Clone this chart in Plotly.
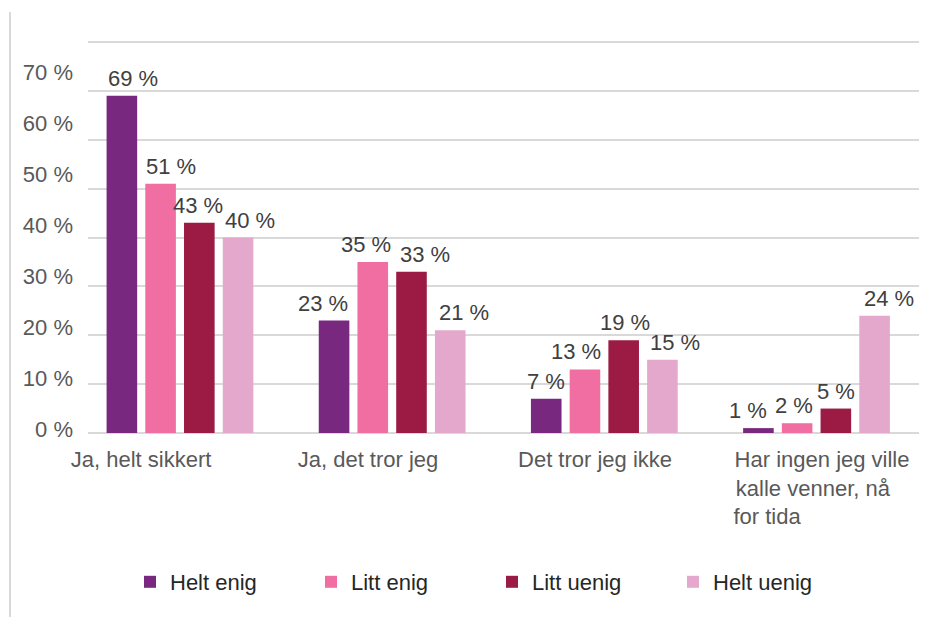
import plotly.graph_objects as go

categories = ["Ja, helt sikkert", "Ja, det tror jeg", "Det tror jeg ikke",
              "Har ingen jeg ville kalle venner, nå for tida"]
tick_labels = ["Ja, helt sikkert", "Ja, det tror jeg", "Det tror jeg ikke",
               "Har ingen jeg ville<br>kalle venner, nå\u00a0\u00a0\u00a0<br>for tida" + "\u00a0" * 18]
series_names = ["Helt enig", "Litt enig", "Litt uenig", "Helt uenig"]
helt_enig = [0.69, 0.23, 0.07, 0.01]
litt_enig = [0.51, 0.35, 0.13, 0.02]
litt_uenig = [0.43, 0.33, 0.19, 0.05]
helt_uenig = [0.40, 0.21, 0.15, 0.24]
y_tick_vals = [0, 0.1, 0.2, 0.3, 0.4, 0.5, 0.6, 0.7]
y_tick_text = ["0 %", "10 %", "20 %", "30 %", "40 %", "50 %", "60 %", "70 %"]

colors = ["#79287F", "#F06EA2", "#9B1B44", "#E4A8CC"]
FONT = "Liberation Sans, Arial, sans-serif"

# horizontal pixel nudge of each value label relative to its bar centre
# (rows = series, columns = categories), mimicking the original placement
label_nudge = [
    [11, -11, 0, -10],
    [10, -7, -9, -3],
    [-1, 13, 1, 0],
    [12, 14, 13, 14],
]

W, H = 940, 617
L, R, T, B = 88, 940 - 919, 38, 617 - 433
PH = 433 - T
PW = W - L - R
X_RANGE = [-0.4334, 3.4831]
BARGAP = 0.27
px_per_cat = PW / (X_RANGE[1] - X_RANGE[0])
slot_px = px_per_cat * (1 - BARGAP) / len(series_names)

fig = go.Figure()
annotations = []
all_vals = [helt_enig, litt_enig, litt_uenig, helt_uenig]
for i, (name, vals, col) in enumerate(zip(series_names, all_vals, colors)):
    fig.add_trace(go.Bar(
        name=name, x=categories, y=vals, marker=dict(color=col, line=dict(width=0)),
        hoverinfo="skip",
    ))
    for j, (c, v) in enumerate(zip(categories, vals)):
        annotations.append(dict(
            x=c, y=v, xref="x", yref="y", text=f"{round(v * 100)} %",
            showarrow=False, xanchor="center", yanchor="bottom",
            xshift=(i - (len(series_names) - 1) / 2) * slot_px + label_nudge[i][j],
            yshift=3, font=dict(size=22, color="#404040", family=FONT),
        ))

# empty carrier trace so the label axes (x2 / y2) get drawn
fig.add_trace(go.Scatter(x=[None], y=[None], xaxis="x2", yaxis="y2",
                         showlegend=False, hoverinfo="skip"))

fig.update_layout(
    width=W, height=H,
    margin=dict(l=L, r=R, t=T, b=B, pad=0, autoexpand=False),
    paper_bgcolor="white", plot_bgcolor="white",
    barmode="group", bargap=BARGAP, bargroupgap=0.21,
    font=dict(family=FONT, size=22, color="#595959"),
    xaxis=dict(type="category", range=X_RANGE, showticklabels=False,
               showgrid=False, zeroline=False, showline=False, ticks=""),
    yaxis=dict(range=[0, 0.8082], dtick=0.1, showticklabels=False, showgrid=True,
               gridcolor="#D9D9D9", gridwidth=1.5, zeroline=True,
               zerolinecolor="#D9D9D9", zerolinewidth=1.5, showline=False, ticks=""),
    xaxis2=dict(overlaying="x", anchor="y", side="bottom", range=[-0.2335, 3.427],
                tickmode="array", tickvals=[0, 1, 2, 3], ticktext=tick_labels,
                showgrid=False, zeroline=False, showline=False, ticks="",
                ticklabelstandoff=11, tickangle=0,
                tickfont=dict(size=22, color="#595959", family=FONT)),
    yaxis2=dict(overlaying="y", anchor="x", side="left", range=[-0.00786, 0.7682],
                tickmode="array", tickvals=y_tick_vals, ticktext=y_tick_text,
                showgrid=False, zeroline=False, showline=False, ticks="",
                ticklabelstandoff=14,
                tickfont=dict(size=22, color="#595959", family=FONT)),
    legend=dict(orientation="h", x=(130 - L) / PW, xanchor="left",
                y=(433 - 582) / PH, yanchor="middle",
                entrywidth=136, entrywidthmode="pixels",
                font=dict(size=22, color="#262626", family=FONT),
                itemclick=False, itemdoubleclick=False, traceorder="normal"),
    showlegend=True,
    annotations=annotations,
    shapes=[dict(type="line", xref="paper", yref="paper",
                 x0=(10 - L) / PW, x1=(10 - L) / PW,
                 y0=(433 - 12) / PH, y1=(433 - 620) / PH,
                 line=dict(color="#D9D9D9", width=2))],
)

fig.write_html("out.html", config={"displayModeBar": False},
               post_script="document.body.style.margin='0';")
